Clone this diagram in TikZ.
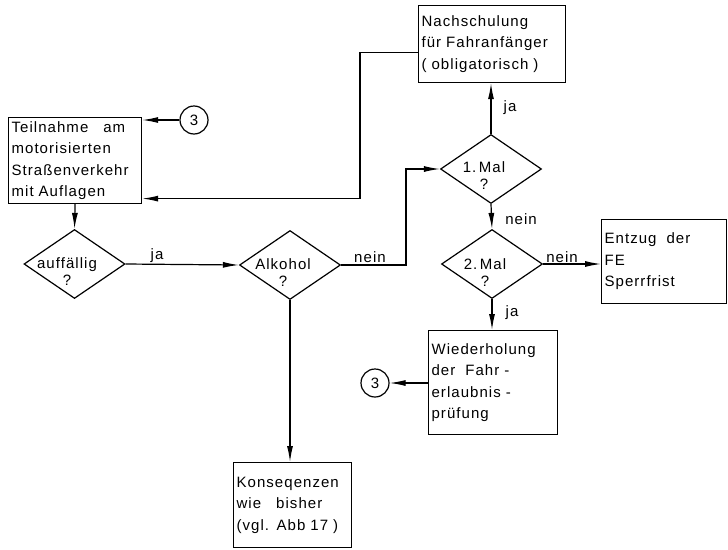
\documentclass[tikz,border=0pt]{standalone}
\usepackage{fontspec}
\setmainfont[LetterSpace=7]{Liberation Sans}
\usetikzlibrary{shapes.geometric,arrows.meta}
\begin{document}
\begin{tikzpicture}[x=1pt,y=-1pt,
  font=\fontsize{15}{21.5}\selectfont,
  box/.style={draw,line width=1.2pt,inner xsep=3pt,inner ysep=0pt,align=left,anchor=north west},
  dia/.style={draw,diamond,line width=1.2pt,minimum width=101pt,minimum height=69pt,inner sep=0pt},
  dtext/.style={align=center,inner sep=0pt,font=\fontsize{15}{17}\selectfont},
  circ/.style={draw,circle,line width=1.2pt,minimum size=28pt,inner sep=0pt},
  arr/.style={line width=1.2pt,-{Latex[length=16pt,width=6pt]}},
  lbl/.style={inner sep=0pt}]
\useasboundingbox (0,0) rectangle (728,549);

% boxes
\node[box,minimum width=133pt,minimum height=86pt,text width=127pt] (teil) at (8,117)
  {Teilnahme\ \ \ am\\motorisierten\\Straßenverkehr\\mit Auflagen};
\node[box,minimum width=147pt,minimum height=77pt,text width=141pt] (nach) at (418,5)
  {Nachschulung\\für Fahranfänger\\( obligatorisch )};
\node[box,minimum width=125pt,minimum height=84pt,text width=119pt] (ent) at (601,219)
  {Entzug\ \ der\\FE\\Sperrfrist};
\node[box,minimum width=129pt,minimum height=104pt,text width=123pt] (wied) at (428,330)
  {Wiederholung\\der\ \ Fahr -\\erlaubnis -\\prüfung};
\node[box,minimum width=118pt,minimum height=85pt,text width=112pt] (kons) at (233,462)
  {Konseqenzen\\wie\ \ \ bisher\\(vgl. Abb 17 )};

% diamonds
\node[dia] (auff) at (74.5,264) {};
\node[dtext] at (67,272) {auffällig\\?};
\node[dia] (alk) at (290,265) {};
\node[dtext] at (283,273) {Alkohol\\?};
\node[dia] (m1) at (491,169) {};
\node[dtext] at (484,176) {1.\,Mal\\?};
\node[dia] (m2) at (492,264) {};
\node[dtext] at (485,273) {2.\,Mal\\?};

% connector circles
\node[circ] (c3a) at (194,120) {3};
\node[circ] (c3b) at (375,383) {3};

% bend points
\coordinate (b1) at (406,210);
\coordinate (b2) at (360,100);

% connectors
\draw[arr] (c3a) -- (c3a -| teil.east);
\draw[arr] ([yshift=-8.5pt]nach.west) -| (b2) |- ([yshift=-38pt]teil.east);
\draw[arr] (teil.south) -- (auff.north);
\draw[arr] (auff.east) -- (alk.west);
\draw[arr] (alk.east) -| (b1) |- (m1.west);
\draw[arr] (m1.north) -- (m1.north |- nach.south);
\draw[arr] (m1.south) -- (m2.north);
\draw[arr] (m2.east) -- (m2.east -| ent.west);
\draw[arr] (m2.south) -- (m2.south |- wied.north);
\draw[arr] (wied.west |- c3b) -- (c3b);
\draw[arr] (alk.south) -- (alk.south |- kons.north);

% labels
\node[lbl] at (157,256) {ja};
\node[lbl] at (370,257) {nein};
\node[lbl] at (510,108) {ja};
\node[lbl] at (521,219) {nein};
\node[lbl] at (562,257) {nein};
\node[lbl] at (512,313) {ja};
\end{tikzpicture}
\end{document}
